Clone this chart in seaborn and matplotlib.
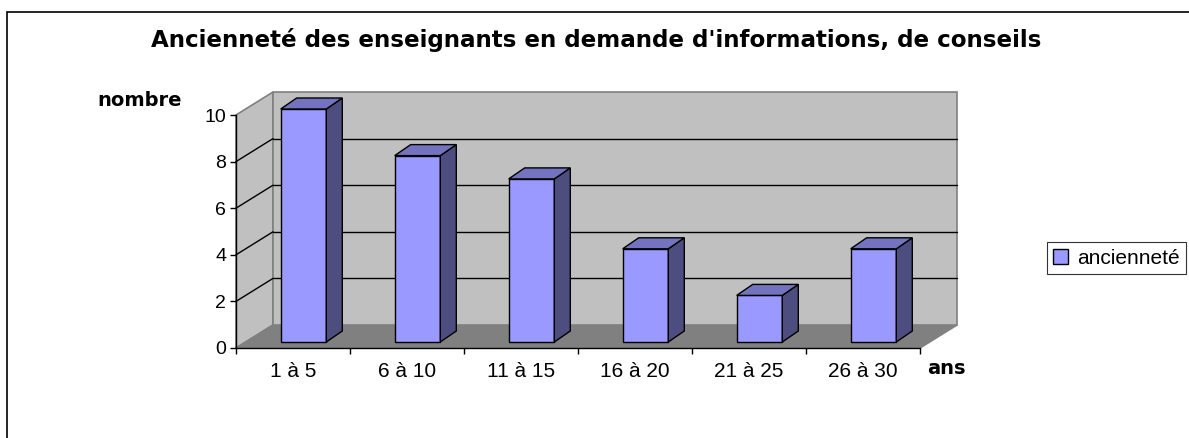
"""
Histogramme 3D (style tableur) : ancienneté des enseignants.
"""
import matplotlib
matplotlib.use("Agg")
import matplotlib.pyplot as plt
import seaborn as sns
import pandas as pd
from matplotlib.patches import Polygon, Rectangle
from matplotlib.lines import Line2D
from matplotlib.transforms import ScaledTranslation

# Données
categories = ["1 à 5", "6 à 10", "11 à 15", "16 à 20", "21 à 25", "26 à 30"]
valeurs = [10, 8, 7, 4, 2, 4]
serie = "ancienneté"
yticks = [0, 2, 4, 6, 8, 10]
titre = "Ancienneté des enseignants en demande d'informations, de conseils"

sns.set_style("white")
plt.rcParams["font.family"] = ["Liberation Sans", "DejaVu Sans"]
plt.rcParams["text.color"] = "black"
plt.rcParams["xtick.color"] = "black"
plt.rcParams["ytick.color"] = "black"

W, H = 1189, 438
fig = plt.figure(figsize=(W / 100, H / 100), dpi=100)
fig.patch.set_facecolor("white")

# zone de tracé (plan avant)
ax = fig.add_axes([236 / W, (H - 348) / H, 684 / W, 233 / H])
ax.set_xlim(-0.5, len(categories) - 0.5)
ax.set_ylim(0, 10)

# conversion pixels -> unités de données
ux = (len(categories)) / 684
uy = 10 / 233
WX, WY = 37 * ux, 23 * uy          # profondeur des parois
FX, FY = 10.5 * ux, 6 * uy         # décalage de la face avant des barres
DX, DY = 16 * ux, 11 * uy          # profondeur des barres

x0, x1 = -0.5, len(categories) - 0.5
gris_paroi = "#C0C0C0"
gris_bord = "#808080"

# paroi gauche
ax.add_patch(Polygon([(x0, 0), (x0, 10), (x0 + WX, 10 + WY), (x0 + WX, WY)],
                     closed=True, facecolor=gris_paroi, edgecolor=gris_bord,
                     lw=1.2, zorder=0.1, clip_on=False))
# sol
ax.add_patch(Polygon([(x0, 0), (x1, 0), (x1 + WX, WY), (x0 + WX, WY)],
                     closed=True, facecolor=gris_bord, edgecolor=gris_bord,
                     lw=1.2, zorder=0.2, clip_on=False))
# paroi du fond
ax.add_patch(Polygon([(x0 + WX, WY), (x1 + WX, WY), (x1 + WX, 10 + WY), (x0 + WX, 10 + WY)],
                     closed=True, facecolor=gris_paroi, edgecolor=gris_bord,
                     lw=1.2, zorder=0.3, clip_on=False))
# quadrillage
for v in yticks[1:-1]:
    ax.add_line(Line2D([x0 + WX, x1 + WX], [v + WY, v + WY], color="black", lw=1,
                       zorder=0.4, clip_on=False))
    ax.add_line(Line2D([x0, x0 + WX], [v, v + WY], color="black", lw=1,
                       zorder=0.4, clip_on=False))

# barres
df = pd.DataFrame({"Ancienneté": categories, "Nombre": valeurs})
sns.barplot(data=df, x="Ancienneté", y="Nombre", color="#9999FF", saturation=1,
            width=0.4, edgecolor="black", linewidth=1, ax=ax, label=serie)

decalage = ScaledTranslation(10.5 / 100, 6 / 100, fig.dpi_scale_trans)
for p in list(ax.patches):
    if not isinstance(p, Rectangle):
        continue
    xb, w, h = p.get_x(), p.get_width(), p.get_height()
    p.set_transform(ax.transData + decalage)
    p.set_clip_on(False)
    p.set_zorder(1)
    xr = xb + w + FX
    ax.add_patch(Polygon([(xr, FY), (xr, h + FY), (xr + DX, h + FY + DY), (xr + DX, FY + DY)],
                         closed=True, facecolor="#4D4D80", edgecolor="black", lw=1,
                         zorder=1, clip_on=False))
    ax.add_patch(Polygon([(xb + FX, h + FY), (xr, h + FY), (xr + DX, h + FY + DY),
                          (xb + FX + DX, h + FY + DY)],
                         closed=True, facecolor="#7373BF", edgecolor="black", lw=1,
                         zorder=1, clip_on=False))

# axes
sns.despine(ax=ax, top=True, right=True)
for s in ["left", "bottom"]:
    ax.spines[s].set_color("black")
    ax.spines[s].set_linewidth(1)
    ax.spines[s].set_zorder(3)
ax.set_yticks(yticks)
ax.tick_params(axis="y", direction="out", length=4, width=1, color="black",
               labelsize=14, pad=3, left=True, labelcolor="black")
ax.set_xticks(range(len(categories)))
ax.set_xticklabels(categories)
ax.set_xticks([i - 0.5 for i in range(len(categories) + 1)], minor=True)
ax.tick_params(axis="x", which="major", length=0, labelsize=15, pad=10,
               labelcolor="black")
ax.tick_params(axis="x", which="minor", direction="out", length=4, width=1,
               color="black", bottom=True)
ax.set_xlabel("")
ax.set_ylabel("")

# textes
fig.text(596 / W, 1 - 40 / H, titre, ha="center", va="center", fontsize=16.6,
         fontweight="bold", family="DejaVu Sans", color="black")
fig.text(140 / W, 1 - 100 / H, "nombre", ha="center", va="center", fontsize=14,
         fontweight="bold", family="DejaVu Sans", color="black")
fig.text(946 / W, 1 - 369 / H, "ans", ha="center", va="center", fontsize=14,
         fontweight="bold", family="DejaVu Sans", color="black")

# légende
leg = ax.legend(loc="center left", bbox_to_anchor=(1047 / W, 1 - 258 / H),
                bbox_transform=fig.transFigure, frameon=True, fancybox=False,
                fontsize=15, handlelength=0.7, handleheight=0.7,
                handletextpad=0.45, borderpad=0.3, borderaxespad=0)
leg.get_frame().set_edgecolor("black")
leg.get_frame().set_linewidth(0.8)
for t in leg.get_texts():
    t.set_color("black")

# cadre extérieur
fig.add_artist(Rectangle((7 / W, -0.1), 1.1, 1 - 12 / H + 0.1, transform=fig.transFigure,
                         facecolor="none", edgecolor="black", lw=1.2, clip_on=False))

fig.savefig("out.png", dpi=100)
